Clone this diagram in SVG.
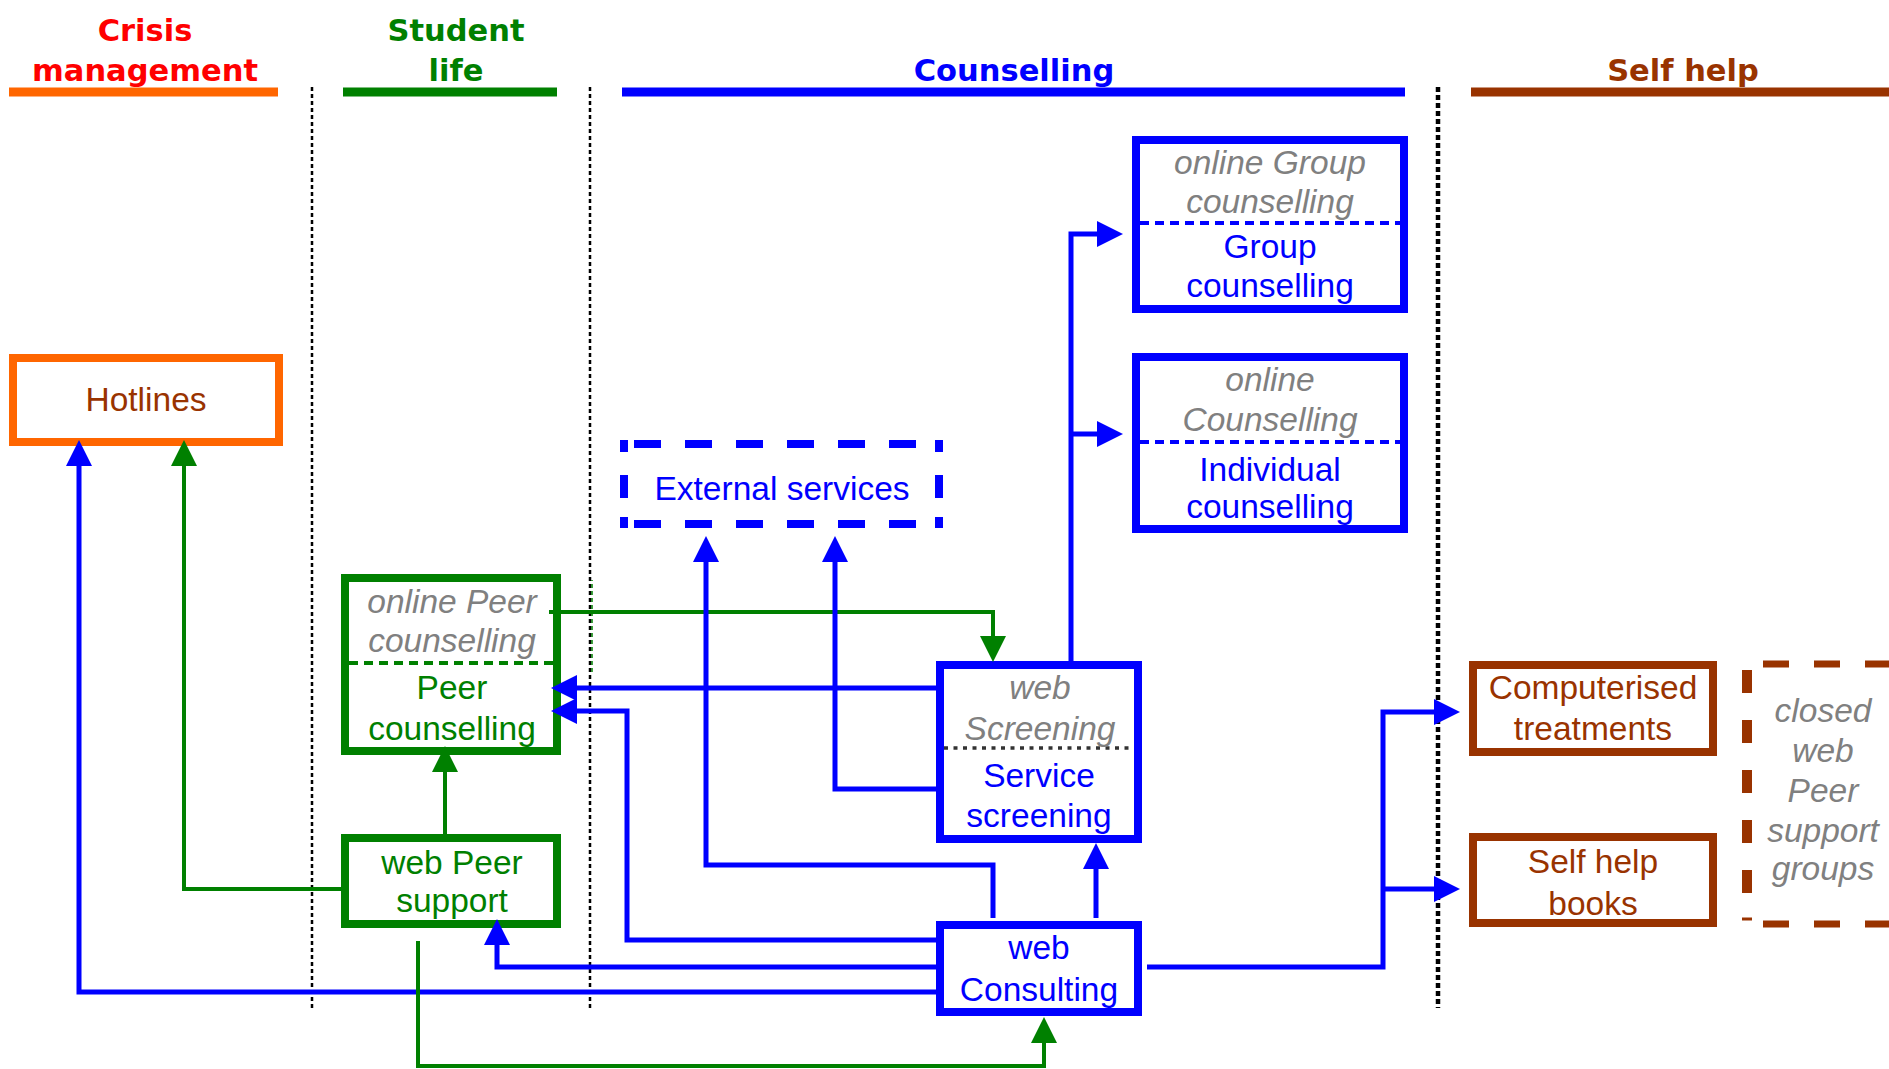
<svg xmlns="http://www.w3.org/2000/svg" width="1889" height="1069" viewBox="0 0 1889 1069">
<defs>
<style>
.t{font-family:"Liberation Sans",Arial,sans-serif;font-size:33.5px;text-anchor:middle}
.i{font-style:italic;fill:#808080}
.tb{fill:#0000FF}.tg{fill:#008000}.tr{fill:#993300}
.hd{font-family:"DejaVu Sans",Verdana,sans-serif;font-weight:bold;font-size:30.5px;text-anchor:middle}
.sep{stroke:#000;stroke-width:2.5;stroke-dasharray:4 3;fill:none}
.bl{stroke:#0000FF;stroke-width:5;fill:none}
.gr{stroke:#008000;stroke-width:4;fill:none}
.box{fill:#fff;stroke-width:8}
.bb{stroke:#0000FF}.bg{stroke:#008000}.bo{stroke:#FF6600}.br{stroke:#993300}
.dv{fill:none;stroke-width:4;stroke-dasharray:9 6}
</style>
<marker id="ab" markerUnits="userSpaceOnUse" markerWidth="26" markerHeight="26" refX="14" refY="13" orient="auto" viewBox="0 0 26 26"><path d="M0,0 L26,13 L0,26 z" fill="#0000FF"/></marker>
<marker id="ag" markerUnits="userSpaceOnUse" markerWidth="26" markerHeight="26" refX="14" refY="13" orient="auto" viewBox="0 0 26 26"><path d="M0,0 L26,13 L0,26 z" fill="#008000"/></marker>
</defs>
<rect x="0" y="0" width="1889" height="1069" fill="#fff"/>

<g id="lanes">
<text class="hd" x="145" y="41" fill="#FF0000">Crisis</text>
<text class="hd" x="145" y="81" fill="#FF0000">management</text>
<rect x="9" y="87.5" width="269" height="9" fill="#FF6600"/>
<text class="hd" x="456" y="41" fill="#008000">Student</text>
<text class="hd" x="456" y="81" fill="#008000">life</text>
<rect x="343" y="87.5" width="214" height="9" fill="#008000"/>
<text class="hd" x="1014" y="81" fill="#0000FF">Counselling</text>
<rect x="622" y="87.5" width="783" height="9" fill="#0000FF"/>
<text class="hd" x="1683" y="81" fill="#993300">Self help</text>
<rect x="1471" y="87.5" width="418" height="9" fill="#993300"/>
<path class="sep" d="M312,87 V1008 M590,87 V1008"/>
<path d="M1438,87 V1008" fill="none" stroke="#000" stroke-width="4.5" stroke-dasharray="5 3"/>
<path d="M592,580 V672" fill="none" stroke="#008000" stroke-width="1.5" stroke-dasharray="4 3" stroke-dashoffset="3"/>
</g>

<g id="hotlines">
<rect class="box bo" x="13" y="358" width="266" height="84"/>
<text class="t tr" x="146" y="411">Hotlines</text>
</g>

<g id="group-counselling">
<rect class="box bb" x="1136" y="140" width="268" height="169"/>
<path class="dv" stroke="#0000FF" d="M1140,223 H1404"/>
<text class="t i" x="1270" y="174">online Group</text>
<text class="t i" x="1270" y="213">counselling</text>
<text class="t tb" x="1270" y="258">Group</text>
<text class="t tb" x="1270" y="297">counselling</text>
</g>

<g id="individual-counselling">
<rect class="box bb" x="1136" y="357" width="268" height="172"/>
<path class="dv" stroke="#0000FF" d="M1140,442 H1404"/>
<text class="t i" x="1270" y="391">online</text>
<text class="t i" x="1270" y="431">Counselling</text>
<text class="t tb" x="1270" y="481">Individual</text>
<text class="t tb" x="1270" y="518">counselling</text>
</g>

<g id="external-services">
<g fill="none" stroke="#0000FF" stroke-width="8">
<path d="M634,444 H919 M634,524 H919" stroke-dasharray="27 24"/>
<path d="M624,475 V498 M939,475 V498"/>
<path d="M624,452 V444 H628 M939,452 V444 H935 M624,517 V524 H628 M939,517 V524 H935"/>
</g>
<text class="t tb" x="782" y="500">External services</text>
</g>

<g id="peer-counselling">
<rect class="box bg" x="345" y="578" width="212" height="173"/>
<path class="dv" stroke="#008000" stroke-width="4.5" stroke-dasharray="11 6" d="M349,663 H553"/>
<text class="t i" x="452" y="613">online Peer</text>
<text class="t i" x="452" y="652">counselling</text>
<text class="t tg" x="452" y="699">Peer</text>
<text class="t tg" x="452" y="740">counselling</text>
</g>

<g id="web-peer-support">
<rect class="box bg" x="345" y="838" width="212" height="86"/>
<text class="t tg" x="452" y="874">web Peer</text>
<text class="t tg" x="452" y="912">support</text>
</g>

<g id="web-screening">
<rect class="box bb" x="940" y="665" width="198" height="174"/>
<path d="M944,748 H1134" fill="none" stroke="#333" stroke-width="3.5" stroke-dasharray="4 5.5"/>
<text class="t i" x="1040" y="699">web</text>
<text class="t i" x="1040" y="740">Screening</text>
<text class="t tb" x="1039" y="787">Service</text>
<text class="t tb" x="1039" y="827">screening</text>
</g>

<g id="web-consulting">
<rect class="box bb" x="940" y="925" width="198" height="87"/>
<text class="t tb" x="1039" y="959">web</text>
<text class="t tb" x="1039" y="1001">Consulting</text>
</g>

<g id="computerised-treatments">
<rect class="box br" x="1473" y="665" width="240" height="87"/>
<text class="t tr" x="1593" y="699">Computerised</text>
<text class="t tr" x="1593" y="740">treatments</text>
</g>

<g id="self-help-books">
<rect class="box br" x="1473" y="837" width="240" height="86"/>
<text class="t tr" x="1593" y="873">Self help</text>
<text class="t tr" x="1593" y="915">books</text>
</g>

<g id="closed-web-peer-support-groups">
<path d="M1763,664 H1900 M1763,924 H1900" fill="none" stroke="#993300" stroke-width="7" stroke-dasharray="26 25"/>
<path d="M1747,670 V895" fill="none" stroke="#993300" stroke-width="10" stroke-dasharray="23 27"/>
<path d="M1742,919 H1752" fill="none" stroke="#993300" stroke-width="3"/>
<text class="t i" x="1823" y="722">closed</text>
<text class="t i" x="1823" y="762">web</text>
<text class="t i" x="1823" y="802">Peer</text>
<text class="t i" x="1823" y="842">support</text>
<text class="t i" x="1823" y="880">groups</text>
</g>

<g id="connectors">
<path class="bl" d="M936,992 H79 V452" marker-end="url(#ab)"/>
<path class="gr" d="M341,889 H184 V452" marker-end="url(#ag)"/>
<path class="gr" d="M549,612 H993 V650" marker-end="url(#ag)"/>
<path class="bl" d="M936,688 H563" marker-end="url(#ab)"/>
<path class="bl" d="M936,940 H627 V711 H563" marker-end="url(#ab)"/>
<path class="bl" d="M936,967 H497 V931" marker-end="url(#ab)"/>
<path class="gr" d="M445,834 V758" marker-end="url(#ag)"/>
<path class="gr" d="M418,941 V1066 H1044 V1029" marker-end="url(#ag)"/>
<path class="bl" d="M993,918 V865 H706 V548" marker-end="url(#ab)"/>
<path class="bl" d="M936,789 H835 V548" marker-end="url(#ab)"/>
<path class="bl" d="M1096,918 V855" marker-end="url(#ab)"/>
<path class="bl" d="M1071,661 V234 H1111" marker-end="url(#ab)"/>
<path class="bl" d="M1071,434 H1111" marker-end="url(#ab)"/>
<path class="bl" d="M1147,967 H1383 V712 H1448" marker-end="url(#ab)"/>
<path class="bl" d="M1383,889 H1448" marker-end="url(#ab)"/>
</g>
</svg>
